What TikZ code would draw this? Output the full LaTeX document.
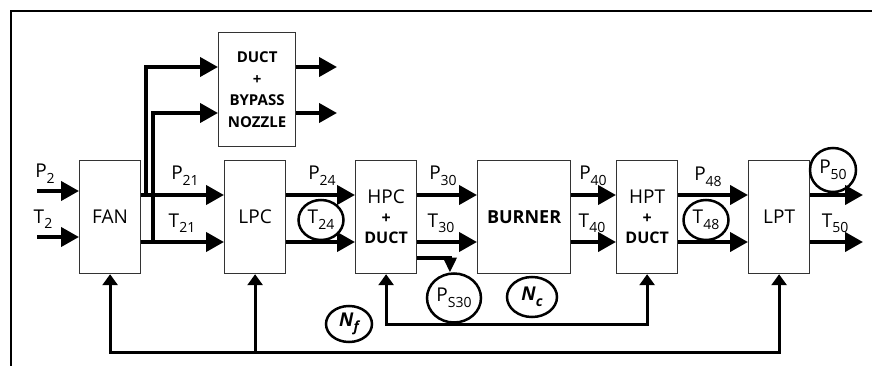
\documentclass[tikz,border=0pt]{standalone}
\usepackage{fontspec}
\setmainfont{Open Sans}
\usetikzlibrary{arrows.meta,shapes.geometric}
\newcommand\sbs[1]{\raisebox{-0.55ex}{\fontsize{14}{14}\selectfont #1}}
\begin{document}
\begin{tikzpicture}[x=1pt,y=-1pt,
  font=\fontsize{19}{23}\selectfont,
  blk/.style={draw=black!80, line width=1.2pt, minimum width=61pt, minimum height=113pt,
              inner sep=0pt, anchor=north west, align=center},
  flow/.style={line width=4pt, -{Triangle[length=18pt,width=19pt]}},
  fb/.style={line width=3pt},
  fbboth/.style={{Triangle[length=11pt,width=15pt]}-{Triangle[length=11pt,width=15pt]}},
  fbone/.style={-{Triangle[length=11pt,width=15pt]}},
  ring/.style={draw, ellipse, line width=2.5pt, inner sep=0pt},
  lbl/.style={anchor=base, inner sep=0pt},
  bsm/.style={font=\bfseries\fontsize{15}{21.5}\selectfont}
]
\useasboundingbox (0,0) rectangle (872,366);
% frame
\draw[line width=1.6pt] (11,366) -- (11,11) -- (872,11);

% blocks
\node[blk] (fan) at (79,160) {FAN};
\node[blk] (lpc) at (224,160) {LPC};
\node[blk] (hpc) at (355,160) {HPC\\[-3pt]{\bfseries\fontsize{16}{20}\selectfont +}\\[-3pt]{\bfseries\fontsize{16}{20}\selectfont DUCT}};
\node[blk, minimum width=93pt] (bur) at (477,160) {\bfseries\fontsize{18}{20}\selectfont BURNER};
\node[blk] (hpt) at (616,160) {HPT\\[-3pt]{\bfseries\fontsize{16}{20}\selectfont +}\\[-3pt]{\bfseries\fontsize{16}{20}\selectfont DUCT}};
\node[blk] (lpt) at (748,160) {LPT};
\node[blk, bsm, minimum width=77pt, minimum height=114pt] (dbn) at (218,32) {DUCT\\+\\BYPASS\\NOZZLE};

% free ends
\coordinate (p2in) at (37,191);
\coordinate (t2in) at (37,237);
\coordinate (s1) at (146,195);
\coordinate (s2) at (153,242);
\coordinate (o1) at (337,67);
\coordinate (o2) at (337,113);
\coordinate (o3) at (863,195);
\coordinate (o4) at (863,242);

% main flow
\draw[flow] (p2in) -- (fan.west |- p2in);
\draw[flow] (t2in) -- (fan.west |- t2in);
\draw[flow] (fan.east |- s1) -- (lpc.west |- s1);
\draw[flow] (fan.east |- s2) -- (lpc.west |- s2);
\draw[flow] (s1) |- (dbn.west |- o1);
\draw[flow] (s2) |- (dbn.west |- o2);
\draw[flow] (dbn.east |- o1) -- (o1);
\draw[flow] (dbn.east |- o2) -- (o2);
\draw[flow] (lpc.east |- s1) -- (hpc.west |- s1);
\draw[flow] (lpc.east |- s2) -- (hpc.west |- s2);
\draw[flow] (hpc.east |- s1) -- (bur.west |- s1);
\draw[flow] (hpc.east |- s2) -- (bur.west |- s2);
\draw[flow] (bur.east |- s1) -- (hpt.west |- s1);
\draw[flow] (bur.east |- s2) -- (hpt.west |- s2);
\draw[flow] (hpt.east |- s1) -- (lpt.west |- s1);
\draw[flow] (hpt.east |- s2) -- (lpt.west |- s2);
\draw[flow] (lpt.east |- o3) -- (o3);
\draw[flow] (lpt.east |- o4) -- (o4);

% sensor rings
\node[ring, minimum width=45pt, minimum height=40pt] (t24) at (321,220) {T\sbs{24}};
\node[ring, minimum width=45pt, minimum height=40pt] (t48) at (706,220) {T\sbs{48}};
\node[ring, minimum width=46pt, minimum height=44pt] (p50) at (833,170) {P\sbs{50}};
\node[ring, minimum width=54pt, minimum height=49pt] (ps30) at (454,298) {P\sbs{S30}};
\node[ring, minimum width=50pt, minimum height=40pt] (nc) at (532,297) {\bfseries\itshape\fontsize{19}{19}\selectfont N\sbs{c}};
\node[ring, minimum width=46pt, minimum height=36pt] (nf) at (349,324) {\bfseries\itshape\fontsize{19}{19}\selectfont N\sbs{f}};

% static pressure tap
\draw[line width=4pt, -{Triangle[length=15pt,width=13pt]}] (hpc.east |- 0,258) -| (ps30.99);

% shaft feedback
\draw[fb, fbboth] (hpc.south) -- (hpc.south |- 0,324) -- (hpt.south |- 0,324) -- (hpt.south);
\draw[fb, fbboth] (fan.south) -- (fan.south |- 0,352) -- (lpt.south |- 0,352) -- (lpt.south);
\draw[fb, fbone] (lpc.south |- 0,352) -- (lpc.south);

% labels
\node[lbl] (lp2) at (45,178) {P\sbs{2}};
\node[lbl] (lt2) at (43,223) {T\sbs{2}};
\node[lbl] (lp21) at (185,180) {P\sbs{21}};
\node[lbl] (lt21) at (182,227) {T\sbs{21}};
\node[lbl] (lp24) at (322,180) {P\sbs{24}};
\node[lbl] (lp30) at (443,180) {P\sbs{30}};
\node[lbl] (lt30) at (441,227) {T\sbs{30}};
\node[lbl] (lp40) at (593,180) {P\sbs{40}};
\node[lbl] (lt40) at (592,227) {T\sbs{40}};
\node[lbl] (lp48) at (708,181) {P\sbs{48}};
\node[lbl] (lt50) at (835,227) {T\sbs{50}};
\end{tikzpicture}
\end{document}
